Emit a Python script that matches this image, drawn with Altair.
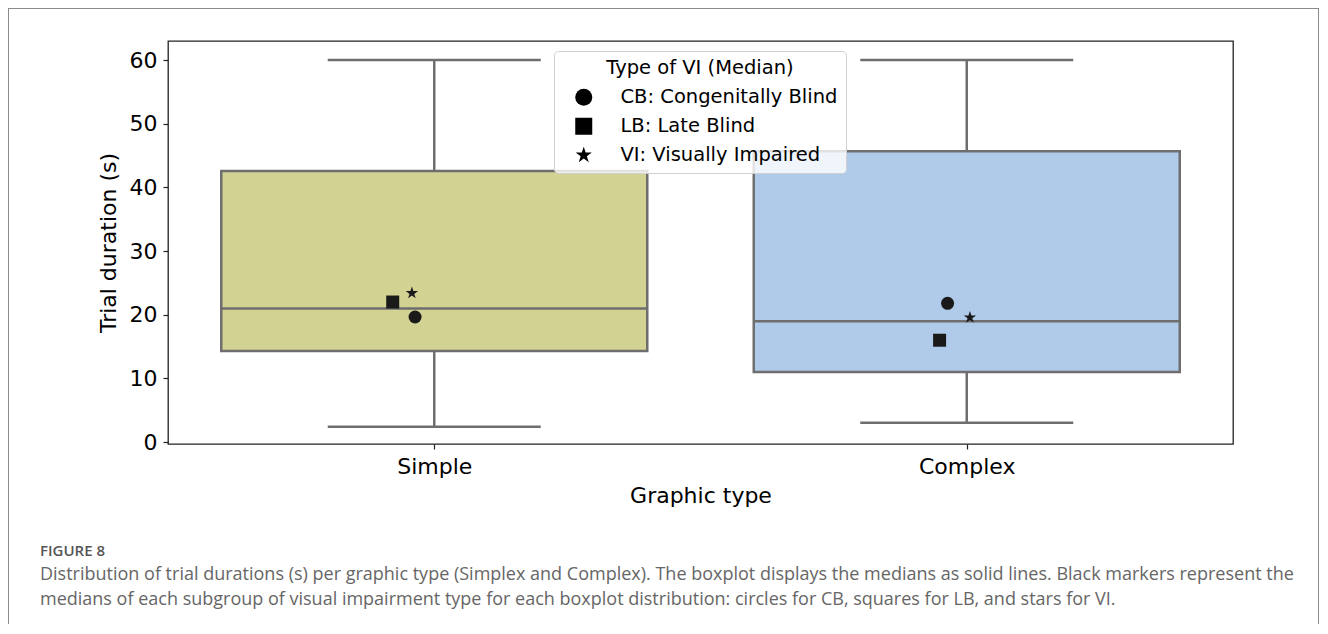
import altair as alt
import pandas as pd

# ---- data ----
categories = ["Simple", "Complex"]
whisker_low = [2.4, 3.05]
q1_values = [14.3, 11.0]
median_values = [21.0, 19.0]
q3_values = [42.6, 45.7]
whisker_high = [60.0, 60.0]
box_colors = ["#d2d293", "#b0cbea"]

STAR = ("M0,-1L0.2245,-0.309L0.951,-0.309L0.3633,0.118L0.5878,0.809L0,0.382"
        "L-0.5878,0.809L-0.3633,0.118L-0.951,-0.309L-0.2245,-0.309Z")
groups = ["CB: Congenitally Blind", "LB: Late Blind", "VI: Visually Impaired"]
group_shapes = ["circle", "square", STAR]
marker_category = ["Simple", "Simple", "Simple", "Complex", "Complex", "Complex"]
marker_group = ["LB: Late Blind", "VI: Visually Impaired", "CB: Congenitally Blind",
                "CB: Congenitally Blind", "VI: Visually Impaired", "LB: Late Blind"]
marker_value = [22.0, 23.4, 19.65, 21.8, 19.56, 16.0]
marker_jitter = [-0.078, -0.042, -0.036, -0.036, 0.006, -0.051]

caption_title = "FIGURE 8"
caption_lines = [
    "Distribution of trial durations (s) per graphic type (Simplex and Complex). The boxplot displays the medians as solid lines. Black markers represent the",
    "medians of each subgroup of visual impairment type for each boxplot distribution: circles for CB, squares for LB, and stars for VI.",
]

BOX_HALF = 0.4   # box half-width in category units
CAP_HALF = 0.2   # whisker cap half-width

pos = {c: i for i, c in enumerate(categories)}
box_df = pd.DataFrame({
    "category": categories, "low": whisker_low, "q1": q1_values,
    "median": median_values, "q3": q3_values, "high": whisker_high,
})
box_df["pos"] = box_df["category"].map(pos)
box_df["left"] = box_df["pos"] - BOX_HALF
box_df["right"] = box_df["pos"] + BOX_HALF
box_df["cap_left"] = box_df["pos"] - CAP_HALF
box_df["cap_right"] = box_df["pos"] + CAP_HALF

marker_df = pd.DataFrame({
    "category": marker_category, "group": marker_group,
    "value": marker_value, "jitter": marker_jitter,
})
marker_df["xpos"] = marker_df["category"].map(pos) + marker_df["jitter"]

FONT = "DejaVu Sans"
EDGE = "#6e6e6e"
PLOT_W, PLOT_H = 1065, 403

label_expr = " : ".join(
    [f"datum.value == {i} ? '{c}'" for i, c in enumerate(categories)] + ["''"]
)
x_scale = alt.Scale(domain=[-0.5, len(categories) - 0.5], nice=False, zero=False)
x_axis = alt.Axis(title="Graphic type", values=list(range(len(categories))), labelExpr=label_expr,
                  labelAngle=0, grid=False)
y_scale = alt.Scale(domain=[-0.3, 63.0], nice=False, zero=False)
y_axis = alt.Axis(title="Trial duration (s)", values=[0, 10, 20, 30, 40, 50, 60], grid=False)

base = alt.Chart(box_df)

boxes = base.mark_rect(stroke=EDGE, strokeWidth=2.5, opacity=1).encode(
    x=alt.X("left:Q", scale=x_scale, axis=x_axis),
    x2="right:Q",
    y=alt.Y("q1:Q", scale=y_scale, axis=y_axis),
    y2="q3:Q",
    color=alt.Color("category:N", scale=alt.Scale(domain=categories, range=box_colors), legend=None),
)
upper_whisker = base.mark_rule(color=EDGE, strokeWidth=2.5).encode(
    x=alt.X("pos:Q", scale=x_scale), y=alt.Y("q3:Q", scale=y_scale), y2="high:Q"
)
lower_whisker = base.mark_rule(color=EDGE, strokeWidth=2.5).encode(
    x=alt.X("pos:Q", scale=x_scale), y=alt.Y("low:Q", scale=y_scale), y2="q1:Q"
)
cap_high = base.mark_rule(color=EDGE, strokeWidth=2.5).encode(
    x=alt.X("cap_left:Q", scale=x_scale), x2="cap_right:Q", y=alt.Y("high:Q", scale=y_scale)
)
cap_low = base.mark_rule(color=EDGE, strokeWidth=2.5).encode(
    x=alt.X("cap_left:Q", scale=x_scale), x2="cap_right:Q", y=alt.Y("low:Q", scale=y_scale)
)
median_line = base.mark_rule(color=EDGE, strokeWidth=2.5).encode(
    x=alt.X("left:Q", scale=x_scale), x2="right:Q", y=alt.Y("median:Q", scale=y_scale)
)

markers = alt.Chart(marker_df).mark_point(filled=True, opacity=1, color="#1a1a1a", strokeWidth=0).encode(
    x=alt.X("xpos:Q", scale=x_scale),
    y=alt.Y("value:Q", scale=y_scale),
    shape=alt.Shape("group:N", scale=alt.Scale(domain=groups, range=group_shapes), legend=None),
    size=alt.Size("group:N", scale=alt.Scale(domain=groups, range=[169, 169, 134]), legend=None),
)

legend_props = dict(
    title="Type of VI (Median)",
    orient="none", legendX=386, legendY=10,
    fillColor="rgba(255,255,255,0.8)", strokeColor="#d0d0d0", cornerRadius=4,
    padding=8, titleAnchor="middle", titleAlign="center",
    titleFont=FONT, titleFontSize=19.5, titleFontWeight="normal", titleColor="#000",
    titlePadding=9, titleLimit=500,
    labelFont=FONT, labelFontSize=19.5, labelColor="#000", labelOffset=27, labelLimit=500,
    symbolOffset=12, symbolFillColor="#000", symbolStrokeWidth=0,
    symbolOpacity=1, rowPadding=8,
)

legend_layer = alt.Chart(marker_df).mark_point(filled=True, opacity=0, color="#000", strokeWidth=0).encode(
    x=alt.X("xpos:Q", scale=x_scale),
    y=alt.Y("value:Q", scale=y_scale),
    shape=alt.Shape("group:N", scale=alt.Scale(domain=groups, range=group_shapes),
                    legend=alt.Legend(**legend_props)),
    size=alt.Size("group:N", scale=alt.Scale(domain=groups, range=[289, 289, 110]),
                  legend=alt.Legend(**legend_props)),
)

one = pd.DataFrame({"a": [0]})
cap_title = alt.Chart(one).mark_text(
    align="left", baseline="middle", font="Open Sans", fontSize=15, fontWeight=600,
    color="#555555", text=caption_title,
).encode(x=alt.value(-128), y=alt.value(510))
cap_line1 = alt.Chart(one).mark_text(
    align="left", baseline="middle", font="Open Sans", fontSize=18, color="#666666",
    text=caption_lines[0],
).encode(x=alt.value(-128), y=alt.value(534))
cap_line2 = alt.Chart(one).mark_text(
    align="left", baseline="middle", font="Open Sans", fontSize=18, color="#666666",
    text=caption_lines[1],
).encode(x=alt.value(-128), y=alt.value(559))

frame_top = alt.Chart(one).mark_rule(color="#8a8a8a", strokeWidth=1).encode(
    x=alt.value(-160), x2=alt.value(1151), y=alt.value(-32.5)
)
frame_left = alt.Chart(one).mark_rule(color="#8a8a8a", strokeWidth=1).encode(
    x=alt.value(-159.5), y=alt.value(-33), y2=alt.value(585)
)
frame_right = alt.Chart(one).mark_rule(color="#8a8a8a", strokeWidth=1).encode(
    x=alt.value(1150.5), y=alt.value(-33), y2=alt.value(585)
)

chart = alt.layer(
    boxes, upper_whisker, lower_whisker, cap_high, cap_low, median_line, markers, legend_layer,
    cap_title, cap_line1, cap_line2, frame_top, frame_left, frame_right,
).resolve_scale(
    shape="independent", size="independent"
).properties(
    width=PLOT_W, height=PLOT_H,
    autosize=alt.AutoSizeParams(type="none"),
    padding={"left": 160, "top": 33, "right": 87, "bottom": 180},
    background="white",
).configure_view(
    stroke="#222222", strokeWidth=1.3
).configure_axis(
    grid=False, domain=False,
    labelFont=FONT, labelFontSize=22, labelColor="#000",
    titleFont=FONT, titleFontSize=22, titleFontWeight="normal", titleColor="#000",
    tickColor="#222222", tickSize=5, tickWidth=1.2,
).configure_axisY(
    labelPadding=6, titlePadding=9,
).configure_axisX(
    labelPadding=7, titlePadding=8,
)

chart.save("out.html", embed_options={"renderer": "svg", "actions": False})
